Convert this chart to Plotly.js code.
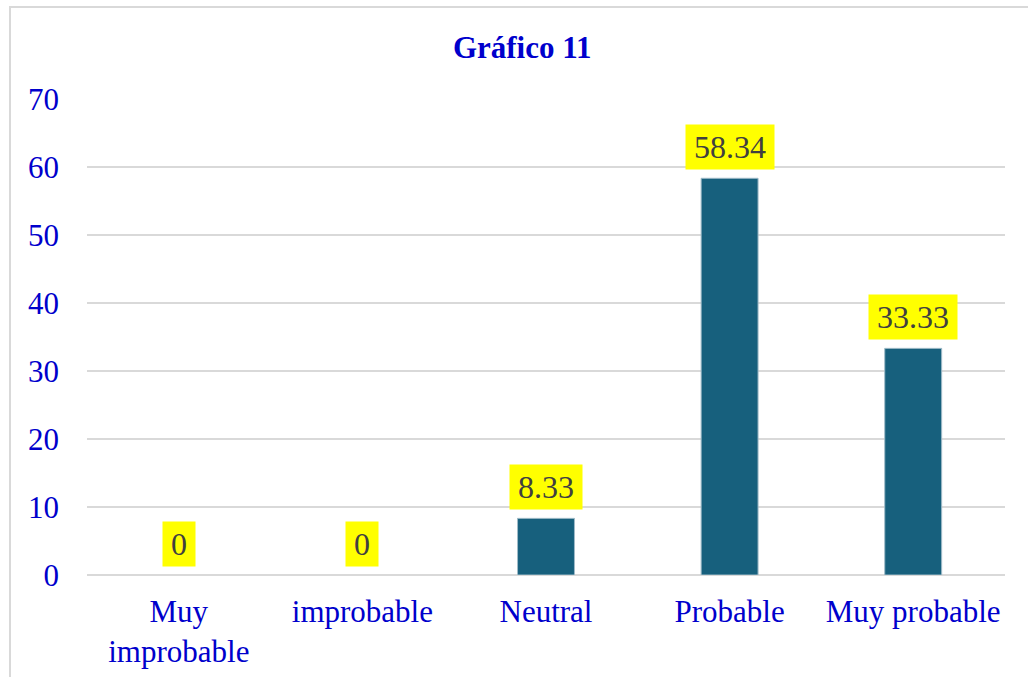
<!DOCTYPE html>
<html>
<head>
<meta charset="utf-8">
<script src="https://cdn.plot.ly/plotly-3.0.1.min.js"></script>
<style>html,body{margin:0;padding:0;background:#fff;}#chart{width:1028px;height:677px;}</style>
</head>
<body>
<div id="chart"></div>
<script>
const categories = ["Muy<br>improbable", "improbable", "Neutral", "Probable", "Muy probable"];
const values = [0, 0, 8.33, 58.34, 33.33];
const labels = ["0", "0", "8.33", "58.34", "33.33"];
const yTicks = [0, 10, 20, 30, 40, 50, 60, 70];

const font = "Liberation Serif, Times New Roman, serif";
const trace = {
  type: "bar",
  x: categories,
  y: values,
  marker: {color: "#17607D", line: {color: "#9FBBC8", width: values.map(v => v > 0 ? 1 : 0)}},
  hoverinfo: "none"
};
const annotations = categories.map((c, i) => ({
  x: c, y: values[i], xref: "x", yref: "y",
  text: labels[i], showarrow: false, yanchor: "bottom", yshift: 8,
  bgcolor: "#FFFF00", borderpad: 8, height: 28,
  font: {family: font, size: 32, color: "#404040"}
}));
const layout = {
  width: 1028, height: 677,
  margin: {l: 87, r: 23, t: 99, b: 102},
  paper_bgcolor: "#fff", plot_bgcolor: "#fff",
  title: {text: "<b>Gráfico 11</b>", font: {family: font, size: 31, color: "#0000CC"}, x: 0.508, xanchor: "center", y: 0.93, yanchor: "middle"},
  bargap: 0.69,
  showlegend: false,
  xaxis: {
    tickfont: {family: font, size: 31, color: "#0000CC"},
    showgrid: false, showline: false, ticks: "", ticklabelstandoff: 15
  },
  yaxis: {
    range: [0, 70], tickvals: yTicks, ticktext: yTicks.map(String),
    tickfont: {family: font, size: 31, color: "#0000CC"},
    gridcolor: "#D9D9D9", gridwidth: 2, zeroline: true, zerolinecolor: "#D9D9D9", zerolinewidth: 2,
    showline: false, ticks: "", ticklabelstandoff: 27
  },
  annotations: annotations,
  shapes: [{
    type: "rect", xref: "paper", yref: "paper",
    x0: -77/918, x1: 1016/918, y0: -0.3, y1: 568/476,
    line: {color: "#D9D9D9", width: 2}, fillcolor: "rgba(0,0,0,0)", layer: "below"
  }]
};
Plotly.newPlot("chart", [trace], layout, {displayModeBar: false, staticPlot: true});
</script>
</body>
</html>
